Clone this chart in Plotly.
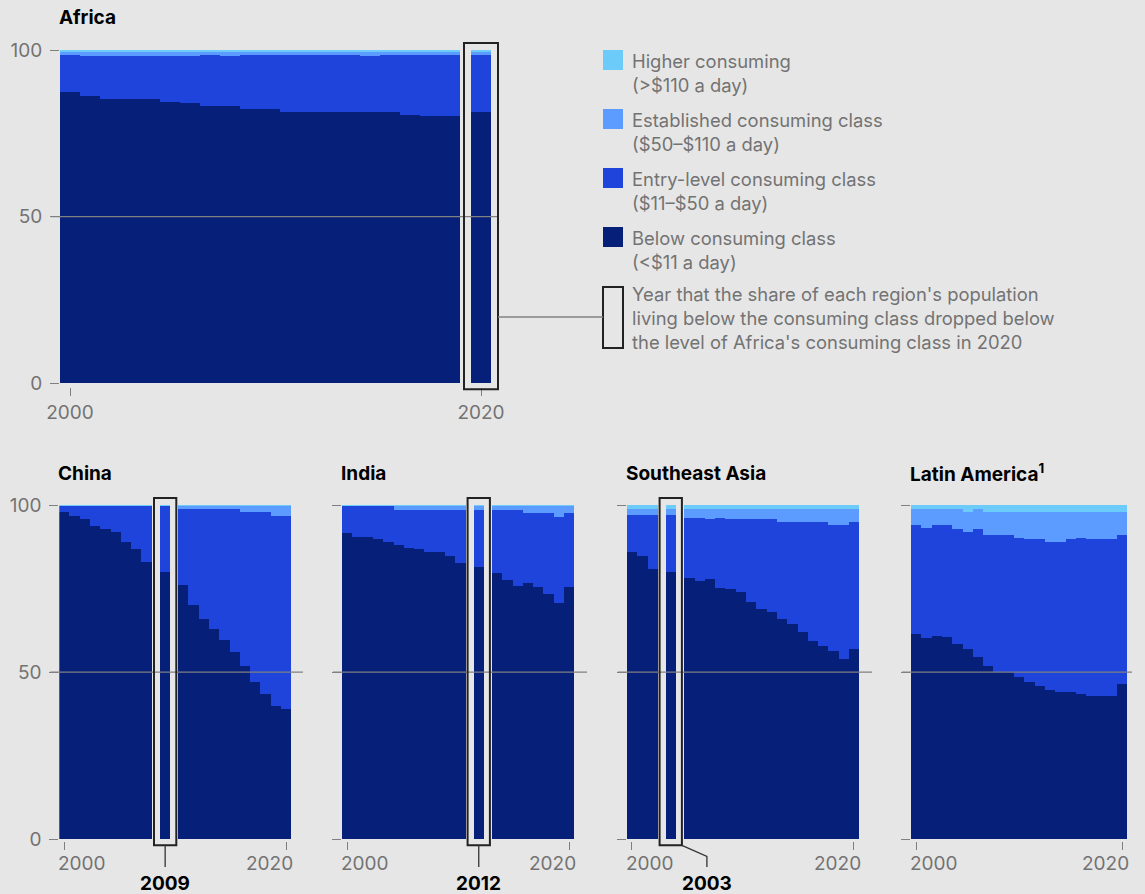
import plotly.graph_objects as go

YEARS = list(range(2000, 2021))

# Share of population by daily-spending class, % (2000-2020)
AFRICA_BELOW = [87.5, 86.2, 85.3, 85.3, 85.3, 84.5, 84.1, 83.2, 83.2, 82.3, 82.3,
                81.4, 81.4, 81.4, 81.4, 81.4, 81.4, 80.5, 80.2, 80.2, 81.4]
AFRICA_ENTRY = [11.0, 12.0, 12.9, 12.9, 12.9, 13.7, 14.1, 15.3, 15.0, 16.2, 16.2,
                17.1, 17.1, 17.1, 17.1, 16.8, 17.1, 18.0, 18.3, 18.3, 17.1]
AFRICA_ESTABLISHED = [1.0, 1.3, 1.3, 1.3, 1.3, 1.3, 1.1, 1.0, 1.3, 1.0, 1.0,
                      1.0, 1.0, 1.0, 1.0, 1.3, 1.0, 1.0, 1.0, 1.0, 1.0]
AFRICA_HIGHER = [0.5, 0.5, 0.5, 0.5, 0.5, 0.5, 0.7, 0.5, 0.5, 0.5, 0.5,
                 0.5, 0.5, 0.5, 0.5, 0.5, 0.5, 0.5, 0.5, 0.5, 0.5]

CHINA_BELOW = [98.0, 96.7, 95.8, 93.7, 92.8, 91.9, 88.9, 86.8, 82.9, 80.0, 76.1,
               70.1, 65.9, 62.9, 59.6, 56.0, 51.8, 47.1, 43.5, 39.9, 39.1]
CHINA_ENTRY = [1.8, 3.1, 4.0, 6.1, 7.0, 7.9, 10.9, 13.0, 16.9, 19.8, 22.7,
               28.7, 32.9, 35.9, 39.2, 42.8, 46.1, 50.8, 54.4, 56.8, 57.6]
CHINA_ESTABLISHED = [0.0, 0.0, 0.0, 0.0, 0.0, 0.0, 0.0, 0.0, 0.0, 0.0, 1.0,
                     1.0, 1.0, 1.0, 1.0, 1.0, 1.9, 1.9, 1.9, 3.1, 3.1]
CHINA_HIGHER = [0.2, 0.2, 0.2, 0.2, 0.2, 0.2, 0.2, 0.2, 0.2, 0.2, 0.2,
                0.2, 0.2, 0.2, 0.2, 0.2, 0.2, 0.2, 0.2, 0.2, 0.2]

INDIA_BELOW = [91.7, 90.5, 90.5, 89.7, 88.8, 87.9, 87.0, 86.7, 85.8, 85.8, 84.6,
               82.8, 81.6, 79.8, 77.7, 75.9, 76.8, 75.6, 73.5, 70.8, 75.6]
INDIA_ENTRY = [8.1, 9.3, 9.3, 10.1, 11.0, 10.7, 11.6, 11.9, 12.8, 12.8, 14.0,
               15.8, 17.0, 18.8, 20.9, 22.7, 20.9, 22.1, 24.2, 25.7, 22.1]
INDIA_ESTABLISHED = [0.0, 0.0, 0.0, 0.0, 0.0, 1.2, 1.2, 1.2, 1.2, 1.2, 1.2,
                     1.2, 1.2, 1.2, 1.2, 1.2, 2.1, 2.1, 2.1, 3.3, 2.1]
INDIA_HIGHER = [0.2, 0.2, 0.2, 0.2, 0.2, 0.2, 0.2, 0.2, 0.2, 0.2, 0.2,
                0.2, 0.2, 0.2, 0.2, 0.2, 0.2, 0.2, 0.2, 0.2, 0.2]

SEA_BELOW = [85.9, 84.7, 80.8, 79.9, 78.1, 77.2, 77.8, 75.1, 74.8, 74.0, 71.0,
             68.9, 68.0, 65.9, 64.4, 62.0, 59.3, 57.8, 56.3, 53.9, 56.9]
SEA_ENTRY = [11.1, 12.3, 16.2, 17.1, 18.0, 18.9, 18.0, 21.0, 21.0, 21.8, 24.8,
             26.9, 27.8, 29.0, 30.5, 32.9, 35.6, 37.1, 37.7, 40.1, 38.0]
SEA_ESTABLISHED = [1.8, 1.8, 1.8, 1.8, 2.7, 2.7, 3.0, 2.7, 3.0, 3.0, 3.0,
                   3.0, 3.0, 3.9, 3.9, 3.9, 3.9, 3.9, 4.8, 4.8, 3.9]
SEA_HIGHER = [1.2, 1.2, 1.2, 1.2, 1.2, 1.2, 1.2, 1.2, 1.2, 1.2, 1.2,
              1.2, 1.2, 1.2, 1.2, 1.2, 1.2, 1.2, 1.2, 1.2, 1.2]

LATAM_BELOW = [61.4, 60.2, 60.8, 60.5, 58.4, 56.9, 54.5, 51.8, 50.0, 49.9, 48.5,
               47.0, 45.8, 44.6, 44.0, 44.0, 43.4, 42.8, 42.8, 42.8, 46.4]
LATAM_ENTRY = [32.6, 32.9, 33.2, 33.5, 34.4, 35.0, 38.3, 39.2, 41.0, 41.1, 41.6,
               42.8, 44.0, 44.3, 44.9, 45.8, 46.7, 47.0, 47.0, 47.0, 44.6]
LATAM_ESTABLISHED = [4.8, 5.7, 4.8, 4.8, 6.0, 6.0, 6.0, 6.9, 6.9, 6.9, 7.8,
                     8.1, 8.1, 9.0, 9.0, 8.1, 7.8, 8.1, 8.1, 8.1, 6.9]
LATAM_HIGHER = [1.2, 1.2, 1.2, 1.2, 1.2, 2.1, 1.2, 2.1, 2.1, 2.1, 2.1,
                2.1, 2.1, 2.1, 2.1, 2.1, 2.1, 2.1, 2.1, 2.1, 2.1]

CLASS_NAMES = ["Below consuming class", "Entry-level consuming class",
               "Established consuming class", "Higher consuming"]
CLASS_RANGES = ["(<$11 a day)", "($11–$50 a day)", "($50–$110 a day)", "(>$110 a day)"]
CLASS_COLORS = ["#061f78", "#1f44dc", "#5c9bff", "#6ccbf8"]

LEGEND_NOTE = ("Year that the share of each region's population<br>"
               "living below the consuming class dropped below<br>"
               "the level of Africa's consuming class in 2020")

# ---- page geometry (pixels) ----
W, H = 1145, 894
BG = "#e6e6e6"
GREY_TEXT = "#737373"
GREY_LINE = "#808080"
FRAME = "#222222"
FONT = "Inter, sans-serif"

PANELS = [
    dict(title="Africa", series=[AFRICA_BELOW, AFRICA_ENTRY, AFRICA_ESTABLISHED, AFRICA_HIGHER],
         highlight=2020, left=60, right=499, top=50, zero=383.3, bottom=387,
         ppu=20.0, gap=11, pad=7, ylabels=True, big=True),
    dict(title="China", series=[CHINA_BELOW, CHINA_ENTRY, CHINA_ESTABLISHED, CHINA_HIGHER],
         highlight=2009, left=59.3, right=303, top=505, zero=839.3, bottom=841,
         ppu=10.3, gap=8, pad=6, ylabels=True, big=False, label_dx=0),
    dict(title="India", series=[INDIA_BELOW, INDIA_ENTRY, INDIA_ESTABLISHED, INDIA_HIGHER],
         highlight=2012, left=342, right=587, top=505, zero=839.3, bottom=841,
         ppu=10.3, gap=8, pad=6, ylabels=False, big=False, label_dx=0),
    dict(title="Southeast Asia", series=[SEA_BELOW, SEA_ENTRY, SEA_ESTABLISHED, SEA_HIGHER],
         highlight=2003, left=626.7, right=872, top=505, zero=839.3, bottom=841,
         ppu=10.3, gap=8, pad=6, ylabels=False, big=False, label_dx=25),
    dict(title="Latin America<sup>1</sup>", series=[LATAM_BELOW, LATAM_ENTRY, LATAM_ESTABLISHED, LATAM_HIGHER],
         highlight=None, left=911, right=1132, top=505, zero=839.3, bottom=841,
         ppu=10.3, gap=0, pad=6, ylabels=False, big=False),
]


def px(x):
    return x / W


def py(y):
    return 1 - y / H


def bar_pos(year, p):
    """Category slot of a year, with a small gap on both sides of the highlighted year."""
    i = year - YEARS[0]
    hl = p["highlight"]
    if hl is not None:
        g = p["gap"] / p["ppu"]
        if year >= hl:
            i += g
        if year > hl:
            i += g
    return i


def slot_px(pos, p):
    return p["left"] + (pos + 0.5) * p["ppu"]


fig = go.Figure()
shapes = []
annotations = []

for k, p in enumerate(PANELS):
    sfx = "" if k == 0 else str(k + 1)
    xa, ya = "x" + sfx, "y" + sfx
    xs = [bar_pos(y, p) for y in YEARS]

    for name, vals, col in zip(CLASS_NAMES, p["series"], CLASS_COLORS):
        fig.add_trace(go.Bar(x=xs, y=vals, name=name, width=1.0, xaxis=xa, yaxis=ya,
                             marker=dict(color=col, line=dict(width=0)),
                             showlegend=False, hoverinfo="skip"))

    ppu_y = (p["zero"] - p["top"]) / 100.0
    x_rng = [-0.5, -0.5 + (p["right"] - p["left"]) / p["ppu"]]
    y_rng = [-(p["bottom"] - p["zero"]) / ppu_y, 100]
    first, last = bar_pos(YEARS[0], p), bar_pos(YEARS[-1], p)

    fig.layout["xaxis" + sfx] = dict(
        domain=[px(p["left"]), px(p["right"])], range=x_rng, anchor=ya, automargin=False,
        tickvals=[first, last], ticktext=[str(YEARS[0]), str(YEARS[-1])],
        showticklabels=p["big"], ticks="outside", ticklen=8, tickwidth=1.3,
        tickcolor=GREY_LINE, showgrid=False, zeroline=False, showline=False,
        tickfont=dict(family=FONT, size=19, color=GREY_TEXT), fixedrange=True)
    fig.layout["yaxis" + sfx] = dict(
        domain=[py(p["bottom"]), py(p["top"])], range=y_rng, anchor=xa, automargin=False,
        tickvals=[0, 50, 100], ticktext=["0", "50", "100"],
        showticklabels=p["ylabels"], ticks="outside", ticklen=9, tickwidth=1.3,
        tickcolor=GREY_LINE, showgrid=False, zeroline=False, showline=False,
        ticklabelstandoff=4,
        tickfont=dict(family=FONT, size=19, color=GREY_TEXT), fixedrange=True)

    # 50% reference line drawn over the bars
    dom_w = p["right"] - p["left"]
    shapes.append(dict(type="line", xref=xa + " domain", yref=ya,
                       x0=-9 / dom_w, x1=1, y0=50, y1=50, layer="above",
                       line=dict(color=GREY_LINE, width=1.3)))

    # panel title
    annotations.append(dict(text="<b>" + p["title"] + "</b>", xref="paper", yref="paper",
                            x=px(p["left"] - 1), y=py(p["top"] - 32), xanchor="left",
                            yanchor="middle", showarrow=False, borderpad=0, borderwidth=0,
                            font=dict(family=FONT, size=19, color="#000000")))

    # start/end year labels under the small panels, pulled inward
    if not p["big"]:
        for pos, txt, anchor, dx in [(first, str(YEARS[0]), "left", -6),
                                     (last, str(YEARS[-1]), "right", 7)]:
            annotations.append(dict(text=txt, xref="paper", yref="paper",
                                    x=px(slot_px(pos, p) + dx), y=py(863),
                                    xanchor=anchor, yanchor="middle", showarrow=False,
                                    borderpad=0, borderwidth=0,
                                    font=dict(family=FONT, size=19, color=GREY_TEXT)))

    # frame around the highlighted year
    hl = p["highlight"]
    if hl is not None:
        cx = slot_px(bar_pos(hl, p), p)
        half = p["ppu"] / 2 + p["pad"]
        rect_top, rect_bottom = p["top"] - 7, p["zero"] + 6
        shapes.append(dict(type="rect", xref="paper", yref="paper",
                           x0=px(cx - half), x1=px(cx + half),
                           y0=py(rect_bottom), y1=py(rect_top), layer="above",
                           line=dict(color=FRAME, width=2), fillcolor="rgba(0,0,0,0)"))
        if not p["big"]:
            dx = p["label_dx"]
            if dx:
                rx = cx + half
                lx = rx + dx
                path = (f"M {px(rx)} {py(rect_bottom)} L {px(lx)} {py(rect_bottom + 11)} "
                        f"L {px(lx)} {py(867)}")
                shapes.append(dict(type="path", xref="paper", yref="paper", path=path,
                                   line=dict(color="#333333", width=1.3)))
            else:
                lx = cx
                shapes.append(dict(type="line", xref="paper", yref="paper",
                                   x0=px(cx), x1=px(cx), y0=py(rect_bottom), y1=py(867),
                                   line=dict(color="#333333", width=1.3)))
            annotations.append(dict(text="<b>" + str(hl) + "</b>", xref="paper", yref="paper",
                                    x=px(lx), y=py(883), xanchor="center", yanchor="middle",
                                    showarrow=False, borderpad=0, borderwidth=0,
                                    font=dict(family=FONT, size=19, color="#000000")))

# ---- legend ----
LEG_X = 603
LEG_TEXT_X = 632
legend_order = [3, 2, 1, 0]
for row, ci in enumerate(legend_order):
    top = 50 + row * 59
    shapes.append(dict(type="rect", xref="paper", yref="paper",
                       x0=px(LEG_X), x1=px(LEG_X + 20), y0=py(top + 20), y1=py(top),
                       fillcolor=CLASS_COLORS[ci], line=dict(width=0)))
    annotations.append(dict(text=CLASS_NAMES[ci] + "<br>" + CLASS_RANGES[ci],
                            xref="paper", yref="paper", x=px(LEG_TEXT_X), y=py(top + 23),
                            xanchor="left", yanchor="middle", align="left", showarrow=False,
                            borderpad=0, borderwidth=0,
                            font=dict(family=FONT, size=18.4, color=GREY_TEXT)))

shapes.append(dict(type="rect", xref="paper", yref="paper",
                   x0=px(LEG_X), x1=px(LEG_X + 20), y0=py(348), y1=py(287),
                   fillcolor="rgba(0,0,0,0)", line=dict(color=FRAME, width=2)))
annotations.append(dict(text=LEGEND_NOTE, xref="paper", yref="paper", x=px(LEG_TEXT_X), y=py(318),
                        xanchor="left", yanchor="middle", align="left", showarrow=False,
                        borderpad=0, borderwidth=0,
                        font=dict(family=FONT, size=18.4, color=GREY_TEXT)))

# connector from Africa's highlighted year to the legend note
afr = PANELS[0]
afr_right = slot_px(bar_pos(afr["highlight"], afr), afr) + afr["ppu"] / 2 + afr["pad"]
shapes.append(dict(type="line", xref="paper", yref="paper",
                   x0=px(afr_right), x1=px(LEG_X), y0=py(317), y1=py(317),
                   line=dict(color=GREY_LINE, width=1.3)))

fig.update_layout(
    template="none",
    width=W, height=H, margin=dict(l=0, r=0, t=0, b=0, autoexpand=False),
    paper_bgcolor=BG, plot_bgcolor=BG,
    barmode="stack", bargap=0, showlegend=False,
    shapes=shapes, annotations=annotations,
    font=dict(family=FONT, color=GREY_TEXT),
)

fig.write_html("out.html")
